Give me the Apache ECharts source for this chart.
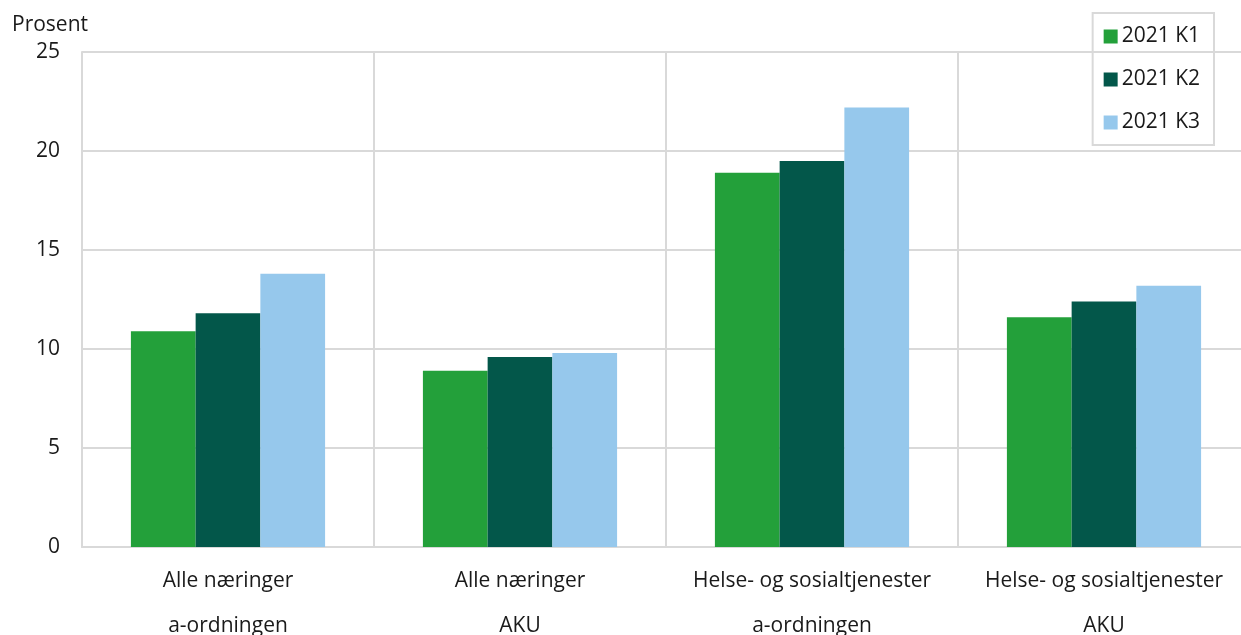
<!DOCTYPE html>
<html><head><meta charset="utf-8">
<script src="https://cdn.jsdelivr.net/npm/echarts@6/dist/echarts.min.js"></script>
<style>html,body{margin:0;padding:0;background:#fff}#c{width:1241px;height:635px}</style>
</head><body><div id="c"></div>
<script>
const categories = ["Alle næringer\na-ordningen", "Alle næringer\nAKU", "Helse- og sosialtjenester\na-ordningen", "Helse- og sosialtjenester\nAKU"];
const seriesNames = ["2021 K1", "2021 K2", "2021 K3"];
const k1 = [10.9, 8.9, 18.9, 11.6];
const k2 = [11.8, 9.6, 19.5, 12.4];
const k3 = [13.8, 9.8, 22.2, 13.2];
const yTicks = [0, 5, 10, 15, 20, 25];
const colors = ["#23a03a", "#03574a", "#96c8ec"];
const font = "'Open Sans', 'Noto Sans', sans-serif";
const chart = echarts.init(document.getElementById('c'), null, {renderer: 'canvas'});
const data = [k1, k2, k3];
chart.setOption({
  animation: false,
  textStyle: {fontFamily: font},
  grid: {left: 82, right: -9, top: 52, bottom: 88, containLabel: false, outerBoundsMode: 'none'},
  legend: {
    orient: 'vertical', right: 27, top: 13,
    itemWidth: 14, itemHeight: 14, itemGap: 22,
    padding: [13, 14, 12, 11],
    borderColor: '#d9d9d9', borderWidth: 2,
    textStyle: {fontSize: 21, color: '#1a1a1a', fontFamily: font, padding: [0, 0, 0, -1]},
    icon: 'rect',
    data: seriesNames
  },
  xAxis: {
    type: 'category', data: categories,
    axisLine: {lineStyle: {color: '#d9d9d9', width: 2}},
    axisTick: {show: false},
    splitLine: {show: true, lineStyle: {color: '#d9d9d9', width: 2}},
    axisLabel: {fontSize: 21, color: '#1a1a1a', lineHeight: 45, margin: 12, fontFamily: font, interval: 0}
  },
  yAxis: {
    type: 'value', min: yTicks[0], max: yTicks[yTicks.length-1], interval: 5,
    name: 'Prosent', nameLocation: 'end', nameGap: 16,
    nameTextStyle: {fontSize: 21, color: '#1a1a1a', align: 'center', padding: [0, 0, 0, -64], fontFamily: font},
    axisLine: {show: true, lineStyle: {color: '#d9d9d9', width: 2}},
    axisTick: {show: false},
    splitLine: {show: true, lineStyle: {color: '#d9d9d9', width: 2}},
    axisLabel: {fontSize: 21, color: '#1a1a1a', margin: 22, fontFamily: font}
  },
  series: seriesNames.map((n, i) => ({
    name: n, type: 'bar', data: data[i],
    barGap: '0%', barCategoryGap: '33.5%',
    itemStyle: {color: colors[i]}
  }))
});
</script></body></html>
